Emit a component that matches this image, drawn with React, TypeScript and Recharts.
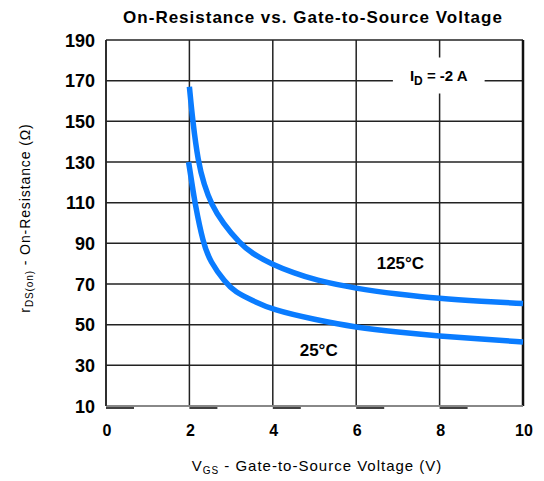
import React from "react";
import {
  CartesianGrid,
  Label,
  Line,
  LineChart,
  ReferenceArea,
  ReferenceDot,
  ReferenceLine,
  XAxis,
  YAxis,
} from "recharts";

// VGS (V) vs rDS(on) (ohm)
const vgs125 = [2.0, 2.08, 2.21, 2.35, 2.53, 2.8, 3.21, 3.5, 4, 4.5, 5, 6, 7, 8, 9, 10];
const rds125 = [167, 150, 130, 119, 109, 100, 90, 85, 79.5, 75.5, 72, 67.7, 65, 62.8, 61.5, 60.4];
const vgs25 = [1.98, 2.05, 2.13, 2.33, 2.5, 2.85, 3.1, 3.5, 4, 5, 6, 7, 8, 9, 10];
const rds25 = [130, 121, 110, 90, 81, 71, 66, 62, 57.2, 52.5, 48.6, 46.3, 44.4, 42.9, 41.5];

const xTicks = [0, 2, 4, 6, 8, 10];
const yTicks = [10, 30, 50, 70, 90, 110, 130, 150, 170, 190];

const hot = vgs125.map((x, i) => ({ x, r: rds125[i] }));
const room = vgs25.map((x, i) => ({ x, r: rds25[i] }));

const FONT = "'Liberation Sans', Arial, sans-serif";
const BLUE = "#0a7cff";

function XTick({ x, y, payload }: any) {
  return (
    <g>
      {payload.value < 10 && (
        <line x1={x} y1={y} x2={x + 28} y2={y} stroke="#111" strokeWidth={1.6} />
      )}
      <text x={x + 1} y={y + 28} textAnchor="middle" fontFamily={FONT} fontWeight="bold" fontSize={16} fill="#000">
        {payload.value}
      </text>
    </g>
  );
}

function YTick({ x, y, payload }: any) {
  return (
    <text x={x} y={y + 6.5} textAnchor="end" fontFamily={FONT} fontWeight="bold" fontSize={18} fill="#000">
      {payload.value}
    </text>
  );
}

export default function App() {
  return (
    <div style={{ position: "absolute", left: 0, top: 0, width: 544, height: 481, background: "#fff" }}>
      <div
        style={{
          position: "absolute",
          left: 0,
          top: 8,
          width: 626,
          textAlign: "center",
          fontFamily: FONT,
          fontWeight: "bold",
          fontSize: 17,
          letterSpacing: 1,
          color: "#000",
        }}
      >
        On-Resistance vs. Gate-to-Source Voltage
      </div>
      <LineChart width={544} height={481} margin={{ top: 40, right: 21, bottom: 0, left: 0 }}>
        <CartesianGrid stroke="#222" strokeWidth={1.5} />
        <XAxis
          type="number"
          dataKey="x"
          domain={[0, 10]}
          ticks={xTicks}
          height={75}
          axisLine={{ stroke: "#999", strokeWidth: 1.5 }}
          tickLine={false}
          tickSize={0}
          tick={<XTick />}
          interval={0}
        >
          <Label
            content={({ viewBox }: any) => (
              <text
                x={317}
                y={viewBox.y + 65}
                textAnchor="middle"
                fontFamily={FONT}
                fontSize={15}
                letterSpacing={1}
                fill="#000"
              >
                V<tspan fontSize={10} dy={3}>GS</tspan>
                <tspan dy={-3}> - Gate-to-Source Voltage (V)</tspan>
              </text>
            )}
          />
        </XAxis>
        <YAxis
          type="number"
          domain={[10, 190]}
          ticks={yTicks}
          width={106}
          axisLine={{ stroke: "#222", strokeWidth: 1.5 }}
          tickLine={false}
          tickSize={0}
          tickMargin={11}
          tick={<YTick />}
          interval={0}
        >
          <Label
            content={() => {
              const cx = 30;
              const cy = 218;
              return (
                <text
                  x={cx}
                  y={cy}
                  transform={`rotate(-90 ${cx} ${cy})`}
                  textAnchor="middle"
                  fontFamily={FONT}
                  fontSize={14}
                  letterSpacing={0.9}
                  fill="#000"
                >
                  r<tspan fontSize={10} dy={3}>DS(on)</tspan>
                  <tspan dy={-3}> - On-Resistance (Ω)</tspan>
                </text>
              );
            }}
          />
        </YAxis>
        <ReferenceLine x={10} stroke="#111" strokeWidth={2.5} />
        <ReferenceArea x1={6.88} x2={9.08} y1={163.7} y2={181.4} fill="#fff" fillOpacity={1} stroke="none" />
        <ReferenceDot
          x={7.98}
          y={172.5}
          r={0}
          label={({ viewBox }: any) => (
            <text x={viewBox.x} y={viewBox.y + 5} textAnchor="middle" fontFamily={FONT} fontWeight="bold" fontSize={15} fill="#000">
              I<tspan fontSize={12} dy={4}>D</tspan>
              <tspan dy={-4}> = -2 A</tspan>
            </text>
          )}
        />
        <Line
          data={hot}
          dataKey="r"
          type="basis"
          stroke={BLUE}
          strokeWidth={5.5}
          dot={false}
          isAnimationActive={false}
        />
        <Line
          data={room}
          dataKey="r"
          type="basis"
          stroke={BLUE}
          strokeWidth={5.5}
          dot={false}
          isAnimationActive={false}
        />
        <ReferenceDot
          x={7.06}
          y={80.5}
          r={0}
          label={{ value: "125°C", fill: "#000", fontSize: 17, fontWeight: "bold", fontFamily: FONT }}
        />
        <ReferenceDot
          x={5.1}
          y={37.5}
          r={0}
          label={{ value: "25°C", fill: "#000", fontSize: 17, fontWeight: "bold", fontFamily: FONT }}
        />
      </LineChart>
    </div>
  );
}
